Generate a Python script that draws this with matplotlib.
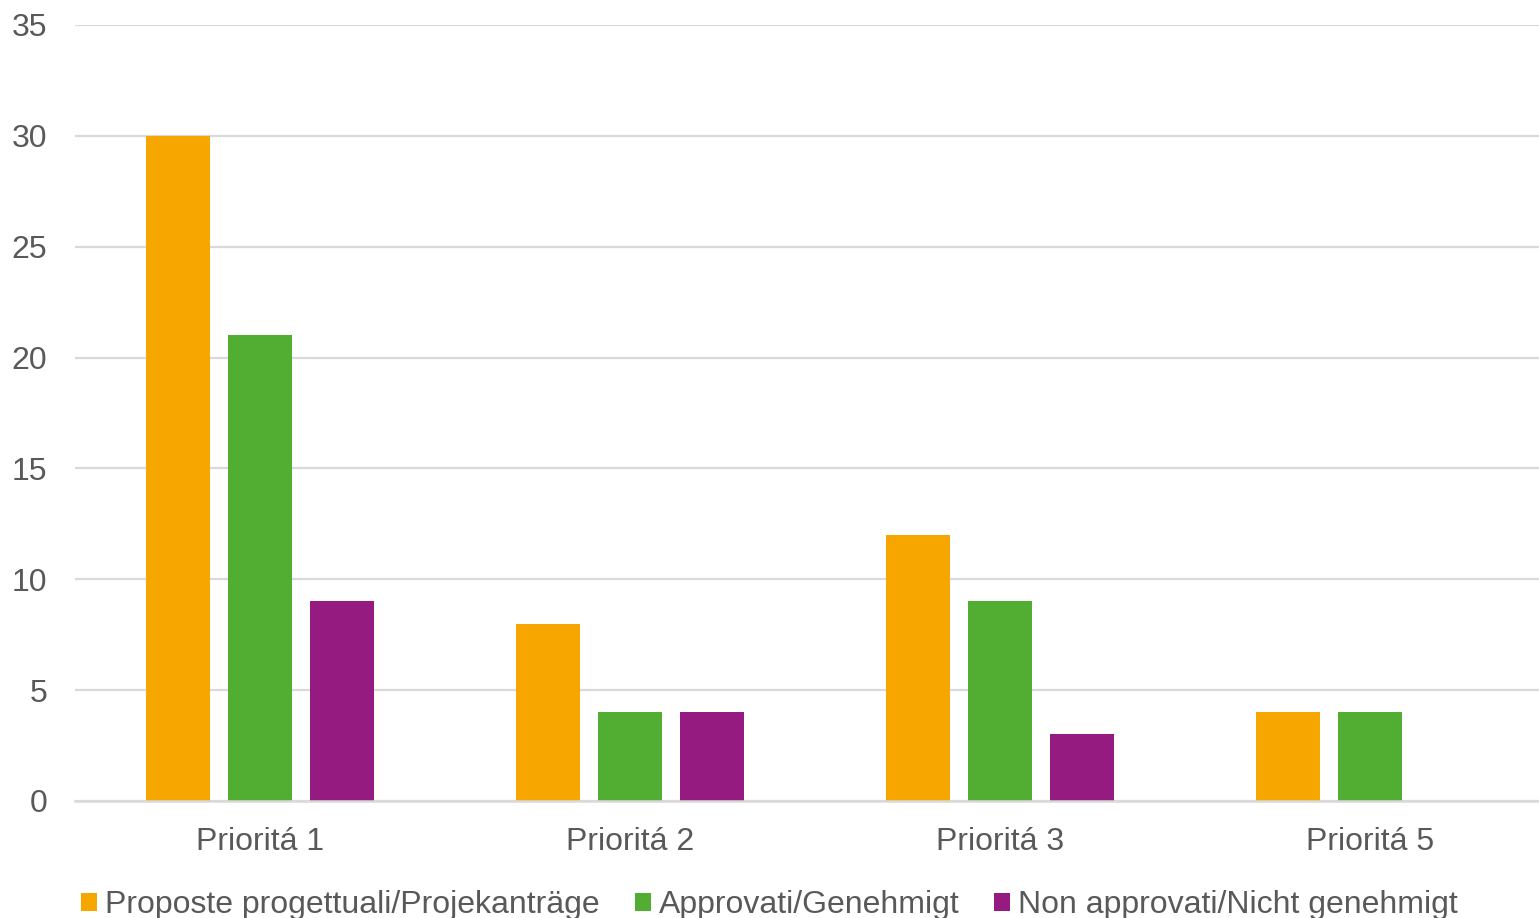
import numpy as np
import matplotlib
matplotlib.use('Agg')
import matplotlib.pyplot as plt
from matplotlib.patches import Patch

plt.rcParams['font.family'] = ['Liberation Sans', 'DejaVu Sans']

# dati
categorie = ['Prioritá 1', 'Prioritá 2', 'Prioritá 3', 'Prioritá 5']
proposte = [30, 8, 12, 4]
approvati = [21, 4, 9, 4]
non_approvati = [9, 4, 3, 0]
serie_nomi = ['Proposte progettuali/Projekanträge',
              'Approvati/Genehmigt',
              'Non approvati/Nicht genehmigt']
colori = ['#F7A600', '#52AE32', '#951B81']
y_ticks = [0, 5, 10, 15, 20, 25, 30, 35]

W, H = 1539, 918
fig = plt.figure(figsize=(W / 100, H / 100), dpi=100)
ax = fig.add_axes([75 / W, 117 / H, 1480 / W, 776 / H])

x = np.arange(len(categorie))
larg = 64 / 370
passo = 82 / 370
for i, (vals, col) in enumerate(zip([proposte, approvati, non_approvati], colori)):
    ax.bar(x + (i - 1) * passo, vals, width=larg, color=col, zorder=3)

ax.set_xlim(-0.5, 3.5)
ax.set_ylim(0, 35)
ax.set_yticks(y_ticks)
ax.set_xticks(x)
ax.set_xticklabels(categorie)
ax.yaxis.grid(True, color='#D9D9D9', linewidth=1.6, zorder=0)
for s in ['top', 'right', 'left']:
    ax.spines[s].set_visible(False)
ax.spines['bottom'].set_color('#D9D9D9')
ax.spines['bottom'].set_linewidth(1.8)
ax.spines['bottom'].set_zorder(4)
ax.tick_params(axis='y', length=0, pad=20, labelsize=23, labelcolor='#595959')
ax.tick_params(axis='x', length=0, pad=18.5, labelsize=23, labelcolor='#595959')

handles = [Patch(facecolor=c, edgecolor='none') for c in colori]
fig.legend(handles, serie_nomi, loc='center', bbox_to_anchor=(0.5, 13 / H),
           ncol=3, frameon=False, fontsize=23, labelcolor='#595959',
           handlelength=0.5, handleheight=0.5, handletextpad=0.25,
           columnspacing=1.1)

fig.savefig('out.png', dpi=100)
